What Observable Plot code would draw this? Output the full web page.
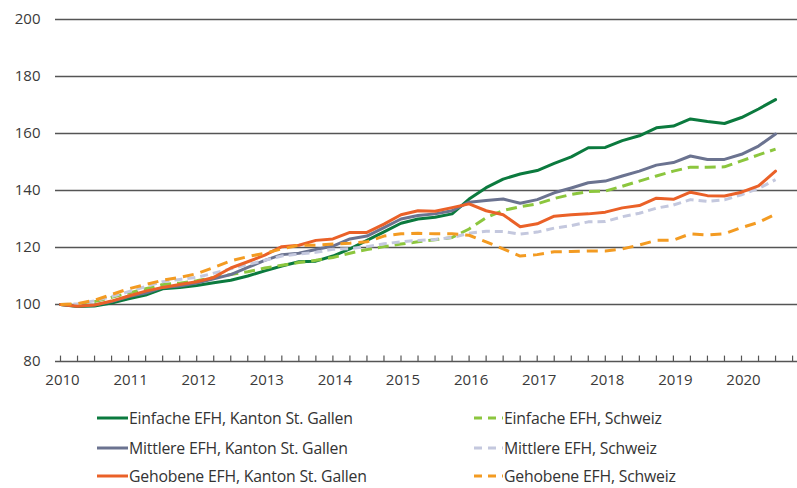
<!DOCTYPE html>
<html>
<head>
<meta charset="utf-8">
<script src="https://cdn.jsdelivr.net/npm/d3@7"></script>
<script src="https://cdn.jsdelivr.net/npm/@observablehq/plot@0.6"></script>
<style>
  html, body { margin: 0; padding: 0; background: #fff; }
  #wrap { position: relative; width: 797px; height: 488px; font-family: "Open Sans", "Noto Sans", sans-serif; color: #333; }
  #legend { position: absolute; left: 0; top: 390px; width: 797px; height: 98px; }
  .item { position: absolute; display: flex; align-items: center; font-size: 15.8px; line-height: 20px; letter-spacing: -0.2px; white-space: nowrap; color: #333; }
  .item svg { display: block; margin-right: 1px; }
</style>
</head>
<body>
<div id="wrap"><div id="chart"></div><div id="legend"></div></div>
<script>
// Quarterly periods 2010 Q1 .. 2020 Q3
const periods = [
  "2010Q1","2010Q2","2010Q3","2010Q4","2011Q1","2011Q2","2011Q3","2011Q4",
  "2012Q1","2012Q2","2012Q3","2012Q4","2013Q1","2013Q2","2013Q3","2013Q4",
  "2014Q1","2014Q2","2014Q3","2014Q4","2015Q1","2015Q2","2015Q3","2015Q4",
  "2016Q1","2016Q2","2016Q3","2016Q4","2017Q1","2017Q2","2017Q3","2017Q4",
  "2018Q1","2018Q2","2018Q3","2018Q4","2019Q1","2019Q2","2019Q3","2019Q4",
  "2020Q1","2020Q2","2020Q3"
];
const yearLabels = [2010,2011,2012,2013,2014,2015,2016,2017,2018,2019,2020];
const yTicks = [80,100,120,140,160,180,200];

const einfacheSG = [100,99.3,99.5,100.5,102,103.3,105.5,106,106.7,107.6,108.5,110,111.8,113.5,115,115.2,117,119.5,122.5,125.5,128.5,130,130.6,131.8,137,141,144,145.8,147,149.5,151.8,155,155.1,157.5,159.2,162,162.6,165.1,164.2,163.5,165.6,168.6,171.9];
const einfacheCH = [100,100,101,102.5,104,105.5,107,107.5,108.3,109.5,110.5,111.5,112.8,113.8,114.7,115.5,116.5,118,119.3,120.3,121.2,122,122.7,123.5,126.5,130.5,133,134.3,135.3,137.2,138.6,139.6,139.8,141.5,143.3,145.1,146.8,148.2,148.2,148.3,150.4,152.5,154.5];
const mittlereSG = [100,99.5,99.8,101,102.8,104,106,106.5,107.5,109,110.5,113,115.5,117.5,118,119.3,120.5,123,124,127,130,131.2,131.8,132.9,135.9,136.5,137,135.5,136.8,139.2,140.9,142.7,143.3,145.1,146.8,148.9,149.8,152.1,150.9,150.9,152.7,155.6,159.8];
const mittlereCH = [100,100.2,101.3,102.8,104.5,106.3,108,108.8,109.5,111,112.5,114,115.5,117,117.7,118.3,119.4,119.6,120.3,121.3,122,122.5,122.8,123.5,125,125.7,125.6,124.7,125.4,126.8,127.7,129,129.1,130.8,132,133.8,134.9,136.8,136.2,136.7,138.5,140.7,143.8];
const gehobeneSG = [100,99.4,99.8,101.2,103,104.7,106,107,108,109.5,112.8,115,117.3,120.3,120.8,122.5,123,125.3,125.3,128.2,131.5,132.9,132.7,134,135.3,132.9,131.5,127.3,128.3,131,131.5,131.8,132.4,133.9,134.7,137.3,136.9,139.4,138.2,138.1,139.4,141.6,146.8];
const gehobeneCH = [100,100.3,101.5,103.5,105.5,107,108.5,109.5,110.8,113,115.3,116.8,118,119.5,120.8,120.8,121.2,121.5,122,124,124.8,125,124.8,124.8,124.3,122,119.5,117,117.5,118.5,118.6,118.8,118.8,119.5,120.9,122.5,122.6,124.8,124.4,124.8,127,128.8,131.7];

const seriesDefs = [
  {name: "Einfache EFH, Kanton St. Gallen", values: einfacheSG, color: "#0b7a3e", dash: null, col: 0, row: 0},
  {name: "Einfache EFH, Schweiz", values: einfacheCH, color: "#8cc63e", dash: "11,6", col: 1, row: 0},
  {name: "Mittlere EFH, Kanton St. Gallen", values: mittlereSG, color: "#6b7390", dash: null, col: 0, row: 1},
  {name: "Mittlere EFH, Schweiz", values: mittlereCH, color: "#c4c8de", dash: "8,5", col: 1, row: 1},
  {name: "Gehobene EFH, Kanton St. Gallen", values: gehobeneSG, color: "#ea6128", dash: null, col: 0, row: 2},
  {name: "Gehobene EFH, Schweiz", values: gehobeneCH, color: "#f39b22", dash: "11,7", col: 1, row: 2}
];

const toT = p => +p.slice(0,4) + (+p.slice(5) - 1) / 4;
const quarterT = periods.map(toT);

const lineMarks = seriesDefs.map(s =>
  Plot.line(periods.map((p, i) => ({t: toT(p), v: s.values[i]})), {
    x: "t", y: "v", stroke: s.color, strokeWidth: 3,
    strokeDasharray: s.dash || undefined,
    strokeLinejoin: "round", strokeLinecap: s.dash ? "butt" : "round"
  })
);

const pxPerYear = 68.1;
const chart = Plot.plot({
  width: 797,
  height: 390,
  marginLeft: 55,
  marginRight: 0,
  marginTop: 19,
  marginBottom: 29,
  style: {fontFamily: "'Open Sans', 'Noto Sans', sans-serif", fontSize: "15px", color: "#3a3a3a", background: "#fff"},
  x: {domain: [2010 - 5 / pxPerYear, 2010 + 737 / pxPerYear], label: null},
  y: {domain: [80, 200], label: null},
  marks: [
    Plot.ruleY(yTicks, {stroke: "#555", strokeWidth: 1.7}),
    Plot.ruleX(quarterT.concat([2020.75]), {y1: 80, y2: 81.9, stroke: "#555", strokeWidth: 1.2}),
    Plot.axisY(yTicks, {tickSize: 0, tickPadding: 15, fontSize: 15, fill: "#3a3a3a"}),
    Plot.axisX(yearLabels, {tickSize: 0, tickPadding: 13, fontSize: 15, fill: "#3a3a3a", tickFormat: d => String(d), dx: 2}),
    ...lineMarks
  ]
});
document.getElementById("chart").appendChild(chart);

// Legend
const legend = document.getElementById("legend");
const rowY = [28, 58, 86];
const swatchX = [97, 472];
seriesDefs.forEach(s => {
  const div = document.createElement("div");
  div.className = "item";
  div.style.left = swatchX[s.col] + "px";
  div.style.top = (rowY[s.row] - 10) + "px";
  div.style.height = "20px";
  const dash = s.dash ? `stroke-dasharray="8,6" stroke-dashoffset="-2"` : "";
  div.innerHTML = `<svg width="31" height="10"><line x1="0" y1="5" x2="31" y2="5" stroke="${s.color}" stroke-width="3" ${dash}/></svg><span>${s.name}</span>`;
  legend.appendChild(div);
});
</script>
</body>
</html>
